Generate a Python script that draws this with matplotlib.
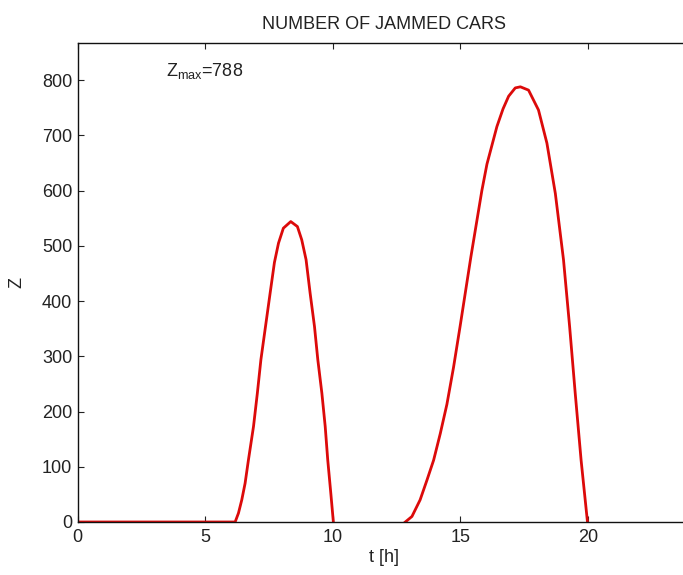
import numpy as np
import matplotlib
matplotlib.use('Agg')
import matplotlib.pyplot as plt

# --- data ---
# first jam (morning), starts from t = 0 on the zero line
t_morning = [0.0, 6.17, 6.30, 6.43, 6.56, 6.69, 6.89, 7.04, 7.18, 7.36, 7.54, 7.71, 7.87,
             8.06, 8.35, 8.61, 8.78, 8.95, 9.11, 9.28, 9.41, 9.57, 9.70, 9.80, 9.92, 10.02]
z_morning = [0, 0, 16, 40, 70, 112, 173, 233, 294, 354, 414, 470, 505,
             532, 544, 535, 511, 475, 414, 354, 294, 233, 173, 112, 52, 0]

# second jam (afternoon)
t_evening = [12.84, 13.10, 13.42, 13.69, 13.95, 14.21, 14.47, 14.73, 14.99, 15.41, 15.84,
             16.04, 16.43, 16.67, 16.89, 17.15, 17.35, 17.67, 18.06, 18.39, 18.72, 19.04,
             19.28, 19.50, 19.73, 19.98]
z_evening = [0, 10, 40, 76, 112, 160, 213, 280, 355, 480, 600,
             648, 716, 748, 771, 786, 788, 782, 746, 686, 595, 475,
             354, 233, 112, 0]

z_max = 788
x_ticks = [0, 5, 10, 15, 20]
y_ticks = [0, 100, 200, 300, 400, 500, 600, 700, 800]

plt.rcParams['font.family'] = ['Liberation Sans', 'DejaVu Sans']
plt.rcParams['mathtext.default'] = 'regular'

fig = plt.figure(figsize=(6.83, 5.75), dpi=100)
ax = fig.add_axes([0.1138, 0.0922, 0.8965, 0.8325])

line_color = '#dc0a0a'
ax.plot(t_morning, z_morning, color=line_color, linewidth=2.0, solid_joinstyle='round')
ax.plot(t_evening, z_evening, color=line_color, linewidth=2.0, solid_joinstyle='round')

ax.set_xlim(0, 24)
ax.set_ylim(0, 1.1 * z_max)
ax.set_xticks(x_ticks)
ax.set_yticks(y_ticks)

ax.tick_params(direction='in', length=4.3, width=0.8, top=True, right=True,
               labelsize=13, colors='#222222')
ax.tick_params(axis='x', pad=5)
ax.tick_params(axis='y', pad=4)
for sp in ax.spines.values():
    sp.set_linewidth(1.0)
    sp.set_color('#111111')

ax.text(3.45, 817, 'Z$_{max}$=788', fontsize=13, ha='left', va='center', color='#222222')

ax.set_title('NUMBER OF JAMMED CARS', fontsize=13, pad=10, color='#222222')
ax.set_xlabel('t [h]', fontsize=13, labelpad=2, color='#222222')
ax.set_ylabel('Z', fontsize=13, labelpad=12, color='#222222')

fig.savefig('out.png', dpi=100, facecolor='white')
